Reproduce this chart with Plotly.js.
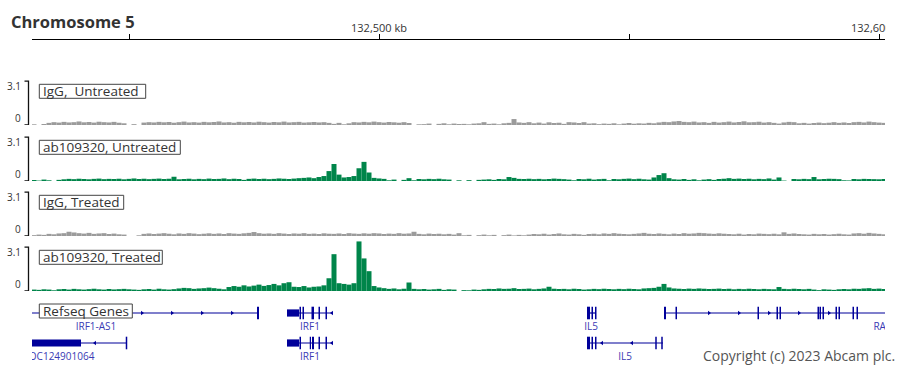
<!DOCTYPE html>
<html><head><meta charset="utf-8">
<script src="https://cdn.plot.ly/plotly-3.0.1.min.js"></script>
<style>html,body{margin:0;padding:0;background:#fff;}#chart{width:913px;height:372px;}</style>
</head><body><div id="chart"></div>
<script>
// ---------- data ----------
const chromosomeName = 'Chromosome 5';
const viewStartKb = 132430.6, viewEndKb = 132601.2;
const rulerTicksKb = [132450, 132500, 132550, 132600];
const rulerTickText = ['', '132,500 kb', '', '132,600 kb'];
const binStartKb = 132431, binSizeKb = 1;
const trackNames = ['IgG,\u00a0 Untreated', 'ab109320, Untreated', 'IgG, Treated', 'ab109320, Treated'];
const scaleMax = 3.1;
const scaleLabels = ['0', '3.1'];

const igGUntreated = [
0.05,0,0.07,
0.15,0.2,0.17,0.22,0.18,0.2,0.25,0.19,0.21,0.17,0.23,0.2,0.18,0.22,0.16,0.12,
0,0.06,0,
0.17,0.2,0.18,0.22,0.19,0.21,0.16,0.2,0.24,0.18,0.2,0.17,0.22,0.19,0.21,0.25,0.18,0.2,0.16,0.22,
0.19,0.21,0.18,0.23,0.2,0.17,0.21,0.19,0.24,0.18,0.2,0.22,0.17,0.19,0.21,0.18,0.2,0.15,
0.08,0.15,0.05,0.12,
0.2,0.18,0.22,0.19,0.24,0.2,0.17,0.21,0.19,0.16,0.2,0.14,
0,0.05,
0.06,0.1,0,0.08,0.12,0.05,0.1,0.07,
0.08,0.05,0.1,0.12,
0.2,0.08,0.1,0.05,0.12,0.15,0.42,0.18,0.15,0.2,
0.12,0.17,0.1,0.19,0.14,0.16,0.08,0.2,0.18,0.14,
0.2,0.1,0.12,0.06,0.1,0.08,0.12,0.05,0.1,0.14,
0.09,0.12,0.1,0.15,0.12,0.18,0.22,0.2,0.25,0.28,
0.22,0.2,0.24,0.18,0.2,0.15,0.22,0.17,0.2,0.24,
0.18,0.21,0.26,0.19,0.2,0.23,0.17,0.2,0.15,0.1,
0.18,0.22,0.2,0.12,0.15,0.1,0.14,0.17,0.13,0.16,
0.2,0.15,0.18,0.14,0.2,0.22,0.18,0.24,0.2,0.17,0.15
];
const abUntreated = [
0.07,0.03,0.1,0.05,0,0.08,
0.12,0.15,0.13,0.16,0.14,0.12,0.15,0.17,0.13,0.15,0.14,0.16,0.12,0.15,0.18,0.14,0.16,0.13,0.15,0.17,0.14,0.16,
0.3,0.12,
0.14,0.16,0.12,0.15,0.13,0.17,0.14,0.15,0.18,0.13,0.16,0.14,
0.08,
0.15,0.17,0.14,0.16,0.13,0.15,0.18,0.16,0.14,0.17,0.2,
0.22,0.25,0.2,0.28,0.35,
0.7,1.2,0.45,0.25,0.28,0.35,0.9,1.35,0.6,0.22,0.18,0.15,0.05,0.1,0,0.08,0.2,0.05,
0.14,0.12,0.15,0.13,0.16,0.12,0.1,
0,0.05,0,0.06,0,0.08,
0.1,0.12,0.08,0.14,0.12,0.28,0.22,0.15,0.14,0.16,0.13,0.15,0.12,0.14,0.17,0.15,0.13,0.1,0.05,0.14,0.12,0.16,0.1,0.13,0.15,
0.05,
0.14,0.12,0.15,0.17,0.13,0.16,0.12,0.1,
0.25,0.42,0.55,0.2,
0.12,0.1,0.14,0.08,0.12,0.05,0.1,0.13,0.08,
0.14,0.16,0.2,0.15,0.17,0.14,0.16,0.12,0.15,0.13,0.18,0.1,0.25,0.03,
0,
0.14,0.12,0.15,0.13,0.28,0.12,0.14,0.16,0.15,0.13,0.05,0.04,0.14,0.12,0.15,0.14,0.13,0.12,0.14
];
const igGTreated = [
0.06,0.1,0.08,
0.15,0.12,0.18,0.2,0.3,0.25,0.2,0.17,0.22,0.15,0.18,0.2,0.14,0.17,0.12,0.1,
0,0,0.05,
0.15,0.18,0.14,0.17,0.2,0.16,0.12,0.18,0.15,0.2,0.17,0.13,0.16,0.19,0.15,0.18,0.14,0.2,0.17,0.15,
0.19,0.22,0.28,0.2,0.16,0.18,0.15,0.2,0.17,0.14,0.18,0.16,0.2,0.15,0.17,0.14,0.19,0.16,
0.15,0.18,0.14,0.2,0.17,0.15,0.19,0.16,0.2,0.18,0.14,0.17,0.15,0.2,0.16,0.18,0.3,0.15,0.12,0.17,
0.14,0.16,0.12,0.15,0.1,0.2,
0.05,0.08,0,0.06,0.1,0.05,0.08,0,0.06,0.1,0.04,0.08,0.05,0.1,
0.14,0.12,0.16,0.1,0.14,0.18,0.12,0.1,0.15,0.12,
0.08,0.14,0.16,0.12,0.18,0.15,0.2,0.16,0.14,0.12,
0.15,0.18,0.22,0.16,0.14,0.18,0.15,0.12,0.17,0.14,
0.2,0.16,0.18,0.22,0.2,0.17,0.15,0.19,0.16,0.14,
0.12,0.16,0.1,0.14,0.12,0.17,0.15,0.13,0.16,0.12,
0.26,0.15,0.18,0.14,0.12,0.1,0.15,0.12,0.14,0.1,
0.13,0.16,0.12,0.1,0.18,0.2,0.16,0.22,0.18,0.15,0.12
];
const abTreated = [
0.1,0.08,0.12,0.1,0.05,0.12,0.14,0.1,0.15,0.12,
0.1,0.13,0.16,0.12,0.1,0.14,0.11,0.13,0.15,0.12,
0.1,0.08,0.12,0.14,0.1,0.16,0.12,0.1,0.13,0.18,
0.22,0.2,0.15,0.18,0.2,0.24,0.2,0.16,0.12,
0.28,0.35,0.3,0.4,0.32,0.38,0.45,0.36,0.42,0.5,0.4,0.55,
0.62,
0.3,0.28,0.35,0.25,0.3,0.32,0.4,
0.9,2.6,0.55,0.5,0.45,0.55,3.5,2.3,1.4,0.35,0.25,
0.2,0.15,0.18,0.12,0.16,0.6,
0.15,0.12,0.14,0.1,0.12,0.15,0.08,0.12,0.1,0,0.06,0.05,0.1,0.08,
0.12,0.15,0.14,0.18,0.15,0.16,0.2,0.14,0.15,0.17,
0.12,0.15,0.18,0.3,0.16,0.14,0.15,0.12,0.16,0.14,
0.1,0.12,0.15,0.13,0.16,0.14,0.12,0.15,0.13,0.16,
0.14,0.12,0.18,0.2,0.22,0.3,0.5,0.25,0.18,0.16,
0.14,0.17,0.15,0.18,0.16,0.14,0.15,0.17,0.14,0.16,
0.12,0.15,0.13,0.16,0.14,0.12,0.15,0.13,0.12,0.28,
0.15,0.13,0.16,0.14,0.12,0.15,0.1,0.06,0.12,0.1,
0.08,0.12,0.14,0.12,0.16,0.15,0.18,0.2,0.15,0.17,0.14
];
const trackValues = [igGUntreated, abUntreated, igGTreated, abTreated];

const geneTrackName = 'Refseq Genes';
const geneNames   = ['IRF1-AS1', 'LOC124901064', 'IRF1', 'IRF1', 'IL5', 'IL5', 'RAD50'];
const geneRows    = [1, 0, 1, 0, 1, 0, 1];
const geneStarts  = [132419.6, 132428.2, 132481.6, 132481.6, 132541.6, 132541.6, 132557.0];
const geneEnds    = [132476.0, 132449.6, 132490.8, 132490.8, 132543.4, 132556.8, 132612.0];
const geneStrands = ['+', '-', '-', '-', '-', '-', '+'];
const geneLabelKb = [132443.4, 132436.0, 132486.2, 132486.2, 132542.4, 132549.2, 132602.0];
const geneExons = [
  [[132475.6,132476.0,'cds']],
  [[132419.0,132440.4,'utr'],[132449.35,132449.65,'cds']],
  [[132481.6,132484.0,'utr'],[132484.1,132484.4,'cds'],[132484.7,132485.0,'cds'],[132486.5,132487.0,'cds'],[132487.9,132488.2,'cds'],[132489.3,132489.6,'cds']],
  [[132481.6,132484.0,'utr'],[132484.1,132484.4,'cds'],[132486.15,132486.4,'cds'],[132486.6,132487.0,'cds'],[132487.9,132488.2,'cds'],[132489.3,132489.6,'cds']],
  [[132541.6,132542.2,'cds'],[132542.5,132542.8,'cds'],[132543.2,132543.5,'cds']],
  [[132541.6,132542.2,'cds'],[132542.5,132542.8,'cds'],[132543.2,132543.5,'cds'],[132555.25,132555.55,'cds'],[132556.45,132556.75,'cds']],
  [[132557.0,132557.4,'cds'],[132559.3,132559.6,'cds'],[132575.7,132576.0,'cds'],[132579.5,132579.8,'cds'],[132580.1,132580.4,'cds'],
   [132587.7,132588.0,'cds'],[132588.1,132588.4,'cds'],[132588.7,132589.0,'cds'],[132591.3,132591.6,'cds'],[132591.9,132592.2,'cds'],
   [132594.7,132595.0,'cds'],[132595.5,132595.8,'cds']]
];
const copyrightText = 'Copyright (c) 2023 Abcam plc.';

// ---------- layout helpers (pixels -> paper) ----------
const W = 913, H = 372;
const px = v => v / W, py = v => 1 - v / H;
const trackColors = ['#9b9b9b', '#00854a', '#9b9b9b', '#00854a'];
const baselines = [125, 181, 236, 291];
const trackPx = 51, yTop = 3.6;
const labelBoxRight = [145.7, 180.3, 123.7, 162.3];   // name-box right edges (px)
const geneBoxRight = 132.3;
const geneNavy = '#00009a', geneText = '#3a3ab4';
const font = 'Open Sans, Noto Sans, sans-serif';

const binX = trackValues[0].map((_, i) => binStartKb + i * binSizeKb);

const data = [];
const layout = {
  width: W, height: H, margin: {l:0, r:0, t:0, b:0},
  paper_bgcolor: '#fff', plot_bgcolor: '#fff', showlegend: false, hovermode: false,
  title: {text: chromosomeName, x: px(11), xanchor: 'left', xref: 'paper', y: py(22), yanchor: 'middle', yref: 'paper',
          font: {family: font, size: 16.5, weight: 700, color: '#333'}},
  xaxis: {domain: [px(32), px(885)], range: [viewStartKb, viewEndKb], anchor: 'free', position: py(39), side: 'top',
          showline: true, linecolor: '#000', linewidth: 1.3, ticks: 'outside', ticklen: 5, tickwidth: 1, tickcolor: '#000',
          tickvals: rulerTicksKb, ticktext: rulerTickText, ticklabelstandoff: -2, tickfont: {family: font, size: 11, color: '#333'},
          showgrid: false, zeroline: false, fixedrange: true},
  shapes: [], annotations: []
};

function nameBox(text, topPx, rightPx) {
  layout.shapes.push({type: 'rect', xref: 'paper', yref: 'paper', x0: px(39.3), x1: px(rightPx),
    y0: py(topPx + 14), y1: py(topPx), fillcolor: '#fff', line: {color: '#444', width: 1}, layer: 'above'});
  layout.annotations.push({xref: 'paper', yref: 'paper', x: px(40.8), y: py(topPx + 6.8), xanchor: 'left', yanchor: 'middle',
    text: text, showarrow: false, font: {family: font, size: 13.5, color: '#333'}});
}

trackValues.forEach((vals, k) => {
  const yn = k === 0 ? 'y' : 'y' + (k + 1);
  const yk = k === 0 ? 'yaxis' : 'yaxis' + (k + 1);
  const B = baselines[k];
  layout[yk] = {domain: [py(B), py(B - trackPx)], range: [0, yTop], anchor: 'free', position: px(28.5),
                showticklabels: false, ticks: '', showgrid: false, zeroline: false, showline: false, fixedrange: true};
  data.push({type: 'bar', x: binX, y: vals, xaxis: 'x', yaxis: yn, width: binSizeKb,
             marker: {color: trackColors[k], line: {width: 0}}, hoverinfo: 'skip'});
  layout.shapes.push({type: 'path', xref: 'paper', yref: yn,
    path: `M ${px(24.5)},${scaleMax} L ${px(28.5)},${scaleMax} L ${px(28.5)},0 L ${px(24.5)},0`,
    line: {color: '#111', width: 1.3}});
  layout.annotations.push({xref: 'paper', yref: yn, x: px(23), y: scaleMax, xanchor: 'right', yanchor: 'middle', yshift: -5,
    text: scaleLabels[1], showarrow: false, font: {family: font, size: 10, color: '#333'}});
  layout.annotations.push({xref: 'paper', yref: yn, x: px(23), y: 0, xanchor: 'right', yanchor: 'middle', yshift: 7,
    text: scaleLabels[0], showarrow: false, font: {family: font, size: 10, color: '#333'}});
  nameBox(trackNames[k], B - 44 + 3.3, labelBoxRight[k]);
});

// gene track
layout.yaxis5 = {domain: [py(370), py(300)], range: [-0.9, 1.4333], anchor: 'free', position: px(32),
                 showticklabels: false, ticks: '', showgrid: false, zeroline: false, showline: false, fixedrange: true};
const lineX = [], lineY = [], arX = [], arY = [], arS = [];
geneNames.forEach((g, i) => {
  const row = geneRows[i];
  lineX.push(geneStarts[i], geneEnds[i], null); lineY.push(row, row, null);
  geneExons[i].forEach(([s, e, kind]) => {
    const h = kind === 'cds' ? 0.21 : 0.12;
    layout.shapes.push({type: 'rect', xref: 'x', yref: 'y5', x0: s, x1: e, y0: row - h, y1: row + h,
      fillcolor: geneNavy, line: {width: 0}});
  });
  for (let p = geneStarts[i] + 3; p < geneEnds[i]; p += 6) {
    const hit = geneExons[i].some(([s, e]) => p > s - 0.5 && p < e + 0.5);
    if (!hit) { arX.push(p); arY.push(row); arS.push(geneStrands[i] === '+' ? 'triangle-right' : 'triangle-left'); }
  }
});
data.push({type: 'scatter', mode: 'lines', x: lineX, y: lineY, xaxis: 'x', yaxis: 'y5',
           line: {color: geneNavy, width: 1.2}, hoverinfo: 'skip'});
data.push({type: 'scatter', mode: 'markers', x: arX, y: arY, xaxis: 'x', yaxis: 'y5',
           marker: {symbol: arS, size: 4, color: geneNavy}, hoverinfo: 'skip'});
data.push({type: 'scatter', mode: 'text', x: geneLabelKb, y: geneRows.map(r => r - 0.49), text: geneNames,
           xaxis: 'x', yaxis: 'y5', textposition: 'middle center',
           textfont: {family: font, size: 10, color: geneText}, hoverinfo: 'skip'});
nameBox(geneTrackName, 304.0, geneBoxRight);
layout.annotations.push({xref: 'paper', yref: 'paper', x: px(701), y: py(355), xanchor: 'left', yanchor: 'middle',
  text: copyrightText, showarrow: false, font: {family: font, size: 14, color: '#555'}});
// clip of ruler label at the right edge of the view
layout.shapes.push({type: 'rect', xref: 'paper', yref: 'paper', x0: px(885.5), x1: 1, y0: py(45), y1: 1,
  fillcolor: '#fff', line: {width: 0}, layer: 'above'});

Plotly.newPlot('chart', data, layout, {displayModeBar: false, staticPlot: true});
</script></body></html>
